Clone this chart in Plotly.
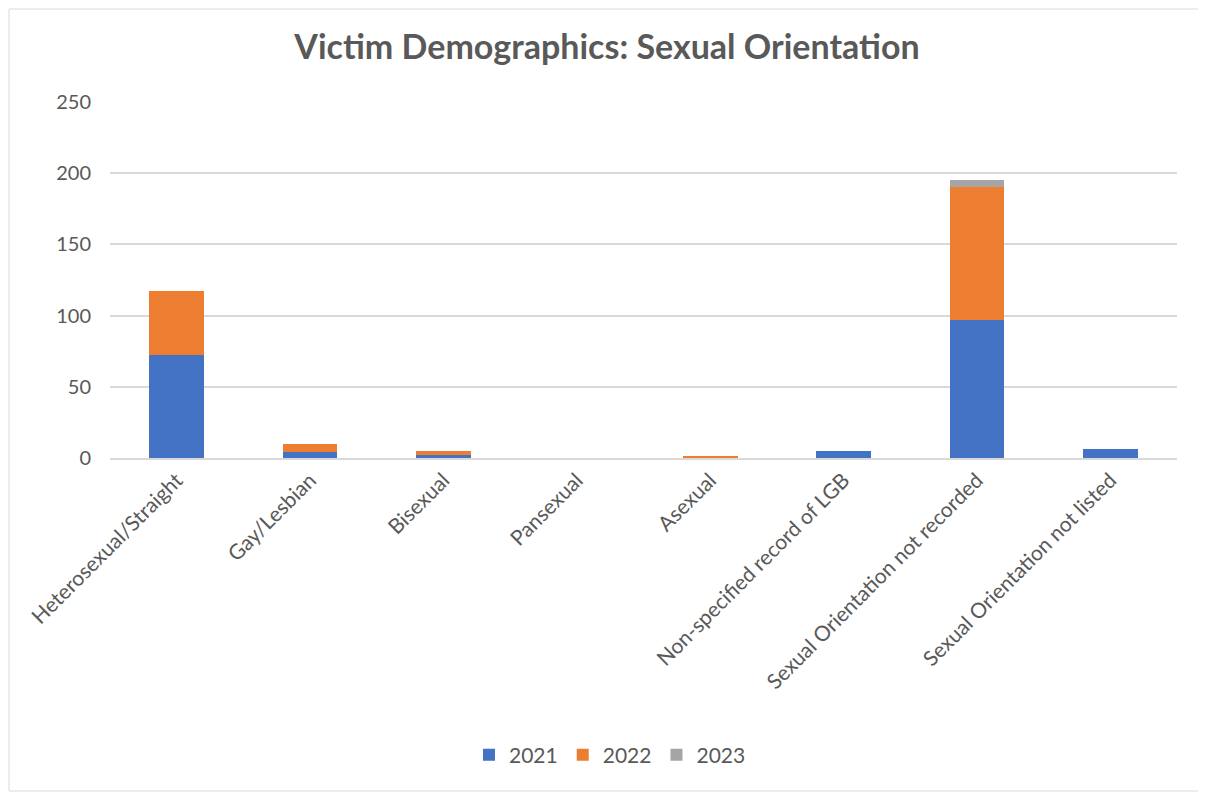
import plotly.graph_objects as go

categories = ["Heterosexual/Straight", "Gay/Lesbian", "Bisexual", "Pansexual", "Asexual",
              "Non-specified record of LGB", "Sexual Orientation not recorded",
              "Sexual Orientation not listed"]
v2021 = [72, 4, 2, 0, 0, 5, 97, 6]
v2022 = [45, 6, 3, 0, 1, 0, 93, 0]
v2023 = [0, 0, 0, 0, 0, 0, 5, 0]
series = [("2021", v2021, "#4472C4"), ("2022", v2022, "#ED7D31"), ("2023", v2023, "#A5A5A5")]

fig = go.Figure()
for name, vals, col in series:
    fig.add_trace(go.Bar(name=name, x=categories, y=vals, marker_color=col,
                         marker_line_width=0))

font = "Lato, Open Sans, sans-serif"
W, H = 1198, 784
L, R, T, B = 102, 29, 94, 334
pw, ph = W - L - R, H - T - B
fig.update_layout(
    barmode="stack", bargap=0.59,
    width=W, height=H,
    margin=dict(l=L, r=R, t=T, b=B),
    paper_bgcolor="white", plot_bgcolor="white",
    title=dict(text="<b>Victim Demographics: Sexual Orientation</b>", x=0.5, xanchor="center",
               y=1 - 39 / H, yanchor="middle",
               font=dict(family=font, size=34, color="#595959")),
    font=dict(family=font, color="#595959", size=20),
    legend=dict(orientation="h", x=(610 - 110) / pw, xanchor="center",
                y=-(755 - 458) / ph, yanchor="middle", itemwidth=30,
                font=dict(size=21, color="#595959"), traceorder="normal"),
    xaxis=dict(tickangle=-45, showline=True, linecolor="#D9D9D9", linewidth=1.5,
               tickfont=dict(size=21, color="#595959"), ticks=""),
    yaxis=dict(range=[0, 250], dtick=50, gridcolor="#D9D9D9", gridwidth=1.5,
               zeroline=False, tickfont=dict(size=20, color="#595959"),
               ticklabelstandoff=18),
    shapes=[dict(type="rect", xref="paper", yref="paper",
                 x0=-(L - 1) / pw, x1=1 + (R - 1) / pw,
                 y0=-(B - 1) / ph, y1=1 + (T - 1) / ph,
                 line=dict(color="#D9D9D9", width=1))],
)
fig.write_html("out.html")
